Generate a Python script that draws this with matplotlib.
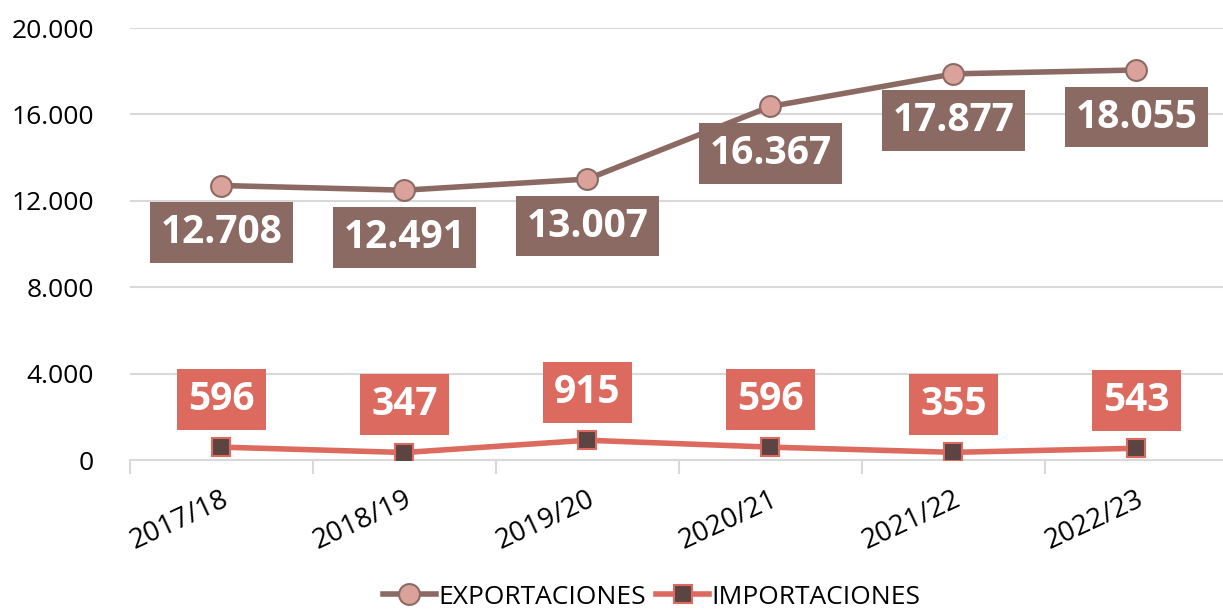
import matplotlib
matplotlib.use("Agg")
import matplotlib.pyplot as plt
import numpy as np

categories = ["2017/18", "2018/19", "2019/20", "2020/21", "2021/22", "2022/23"]
exportaciones = [12708, 12491, 13007, 16367, 17877, 18055]
importaciones = [596, 347, 915, 596, 355, 543]
yticks = [0, 4000, 8000, 12000, 16000, 20000]

exp_line = "#8C6A64"
exp_face = "#D9A39B"
imp_line = "#DC6A5E"
imp_face = "#5B4441"
grid_c = "#D9D9D9"

def fmt(v):
    return f"{v:,}".replace(",", ".")

fig = plt.figure(figsize=(12.23, 6.09), dpi=100)
ax = fig.add_axes([130/1223, 1-460/609, 1098/1223, (460-28)/609])
x = np.arange(len(categories))
ax.set_xlim(-0.5, len(categories)-0.5)
ax.set_ylim(0, 20000)

ax.set_yticks(yticks)
ax.set_yticklabels([fmt(v) for v in yticks], fontsize=19, family="Open Sans")
ax.tick_params(axis="y", length=0, pad=26)
ax.grid(axis="y", color=grid_c, linewidth=1.5, zorder=0)
for s in ["top", "right", "left"]:
    ax.spines[s].set_visible(False)
ax.spines["bottom"].set_color(grid_c)
ax.spines["bottom"].set_linewidth(1.5)

ax.set_xticks(np.arange(len(categories)+1) - 0.5, minor=True)
ax.set_xticks(x)
ax.set_xticklabels(categories, rotation=25, ha="right", rotation_mode="anchor",
                   fontsize=20, family="Open Sans")
ax.tick_params(axis="x", which="major", length=0, pad=18)
ax.tick_params(axis="x", which="minor", length=10, width=1.5, color=grid_c)

ax.plot(x, exportaciones, color=exp_line, linewidth=4, marker="o", markersize=15,
        markerfacecolor=exp_face, markeredgecolor=exp_line, markeredgewidth=1.5,
        label="EXPORTACIONES", zorder=3)
ax.plot(x, importaciones, color=imp_line, linewidth=4, marker="s", markersize=13,
        markerfacecolor=imp_face, markeredgecolor=imp_line, markeredgewidth=1.5,
        label="IMPORTACIONES", zorder=3)

for xi, v in zip(x, exportaciones):
    ax.annotate(fmt(v), (xi, v), xytext=(0, -47), textcoords="offset pixels",
                ha="center", va="center", fontsize=28, fontweight="bold", color="white",
                family="Open Sans",
                bbox=dict(boxstyle="square,pad=0.28", facecolor=exp_line, edgecolor="none"),
                zorder=4)
for xi, v in zip(x, importaciones):
    ax.annotate(fmt(v), (xi, v), xytext=(0, 48), textcoords="offset pixels",
                ha="center", va="center", fontsize=28, fontweight="bold", color="white",
                family="Open Sans",
                bbox=dict(boxstyle="square,pad=0.28", facecolor=imp_line, edgecolor="none"),
                zorder=4)

leg = fig.legend(loc="center", bbox_to_anchor=(0.533, 1-597/609), ncol=2, frameon=False,
                 prop={"family": "Open Sans", "size": 19}, handlelength=2.0,
                 handletextpad=0.1, columnspacing=0.4)

fig.savefig("out.png", dpi=100)
